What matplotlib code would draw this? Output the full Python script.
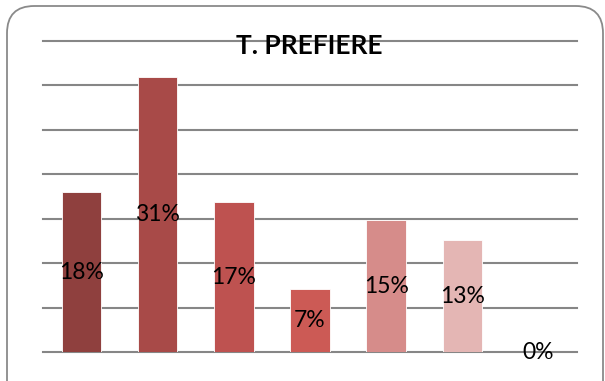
import matplotlib
matplotlib.use("Agg")
import matplotlib.pyplot as plt
from matplotlib.patches import FancyBboxPatch

categories = ["A", "B", "C", "D", "E", "F", "G"]
values = [0.18, 0.309, 0.169, 0.071, 0.148, 0.126, 0.0]
labels = ["18%", "31%", "17%", "7%", "15%", "13%", "0%"]
colors = ["#8F403E", "#A84A48", "#BE5250", "#CC5A55", "#D68C8A", "#E4B6B4", "#E4B6B4"]
title = "T. PREFIERE"
grid_ticks = [0.0, 0.05, 0.10, 0.15, 0.20, 0.25, 0.30, 0.35]

W, H = 605, 381
fig = plt.figure(figsize=(W / 100, H / 100), dpi=100)

# rounded chart border
box = FancyBboxPatch((7 / W, -30 / H), (603 - 7) / W, (H - 6 + 30) / H,
                     boxstyle="round,pad=0,rounding_size=0.045",
                     transform=fig.transFigure, facecolor="none",
                     edgecolor="#8A8A8A", linewidth=1.3, mutation_aspect=W / H,
                     clip_on=False, zorder=-1)
fig.patches.append(box)

ax = fig.add_axes([43.3 / W, (H - 352.3) / H, (576.7 - 43.3) / W, (352.3 - 40.6) / H])
ax.set_facecolor("none")
x = list(range(len(categories)))
ax.set_xlim(-0.5, len(categories) - 0.5)
ax.set_ylim(0, 0.35)

for t in grid_ticks:
    ax.axhline(t, color="#868686", linewidth=1.5, zorder=1, clip_on=False)

bars = ax.bar(x, values, width=0.52, color=colors, edgecolor="#FFFFFF",
              linewidth=0.6, zorder=2)

for xi, v, lab in zip(x, values, labels):
    ax.text(xi, v / 2, lab, ha="center", va="center", fontsize=16.5,
            family="Lato", color="#000000", zorder=3)

for s in ax.spines.values():
    s.set_visible(False)
ax.set_xticks([])
ax.set_yticks([])

fig.text(309.5 / W, 1 - 46.5 / H, title, ha="center", va="center",
         fontsize=19, fontweight="bold", family="Lato", color="#000000", zorder=5)

fig.savefig("out.png", dpi=100)
